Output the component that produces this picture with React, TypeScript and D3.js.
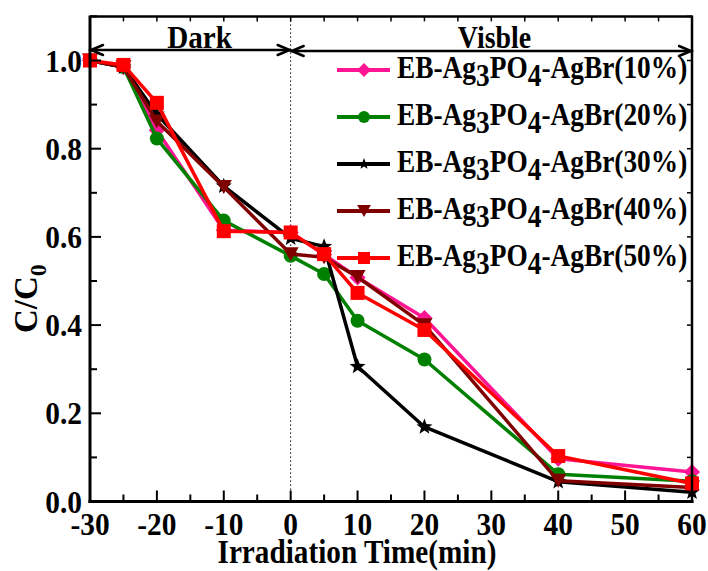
import React from "react";
import * as d3 from "d3";

const times = [-30, -25, -20, -10, 0, 5, 10, 20, 40, 60];
const s10 = [1.0, 0.985, 0.842, 0.615, 0.61, 0.56, 0.508, 0.416, 0.097, 0.067];
const s20 = [1.0, 0.985, 0.823, 0.637, 0.557, 0.516, 0.41, 0.322, 0.062, 0.046];
const s30 = [1.0, 0.985, 0.878, 0.715, 0.597, 0.578, 0.306, 0.169, 0.045, 0.021];
const s40 = [1.0, 0.985, 0.862, 0.713, 0.561, 0.554, 0.509, 0.4, 0.047, 0.032];
const s50 = [1.0, 0.99, 0.904, 0.613, 0.61, 0.561, 0.473, 0.389, 0.103, 0.041];

const seriesLabels = ["10%", "20%", "30%", "40%", "50%"];
const seriesColors = ["#FF1493", "#008000", "#000000", "#800000", "#FF0000"];
const seriesMarkers = ["diamond", "circle", "star", "triangleDown", "square"];
const seriesValues = [s10, s20, s30, s40, s50];

const xTicks = [-30, -20, -10, 0, 10, 20, 30, 40, 50, 60];
const yTicks = [0.0, 0.2, 0.4, 0.6, 0.8, 1.0];

const W = 708;
const H = 571;
const FONT = "'Liberation Serif', 'Times New Roman', serif";

function markerPath(kind: string, s: number): string {
  const h = s / 2;
  switch (kind) {
    case "diamond":
      return `M0,${-h * 1.15}L${h * 1.15},0L0,${h * 1.15}L${-h * 1.15},0Z`;
    case "square":
      return `M${-h},${-h}L${h},${-h}L${h},${h}L${-h},${h}Z`;
    case "triangleDown": {
      const w = s * 1.15;
      const th = w * 0.866;
      return `M${-w / 2},${-th / 2}L${w / 2},${-th / 2}L0,${th / 2}Z`;
    }
    case "star": {
      const R = h * 1.2;
      const r = R * 0.42;
      const pts: string[] = [];
      for (let i = 0; i < 10; i++) {
        const a = -Math.PI / 2 + (i * Math.PI) / 5;
        const rr = i % 2 === 0 ? R : r;
        pts.push(`${rr * Math.cos(a)},${rr * Math.sin(a)}`);
      }
      return "M" + pts.join("L") + "Z";
    }
    default: {
      const r = h;
      return `M${r},0A${r},${r} 0 1,1 ${-r},0A${r},${r} 0 1,1 ${r},0Z`;
    }
  }
}

export default function App() {
  const x = d3.scaleLinear().domain([-30, 60]).range([90, 692]);
  const y = d3.scaleLinear().domain([0, 1.1]).range([501.5, 16.4]);
  const line = d3
    .line<number>()
    .x((_, i) => x(times[i]))
    .y((d) => y(d));

  const left = x(-30);
  const right = x(60);
  const top = y(1.1);
  const bottom = y(0);

  const xMinor = d3.range(-30, 61, 5);
  const yMinor = d3.range(0, 1.101, 0.1);

  const legendRows = [70, 117, 164, 211, 258];

  const arrowY1 = 50;
  const arrowY2 = 51;
  const headL = 12;
  const headH = 5;

  return (
    <div style={{ position: "absolute", left: 0, top: 0 }}>
      <svg width={W} height={H} style={{ display: "block", background: "#fff" }}>
        <rect x={0} y={0} width={W} height={H} fill="#fff" />
        <line
          x1={x(0)}
          x2={x(0)}
          y1={top}
          y2={bottom}
          stroke="#000"
          strokeWidth={1}
          strokeDasharray="1.5,2.5"
        />
        {seriesValues.map((vals, si) => (
          <g key={si}>
            <path
              d={line(vals) || ""}
              fill="none"
              stroke={seriesColors[si]}
              strokeWidth={3.5}
              strokeLinejoin="round"
            />
            {vals.map((v, i) => (
              <path
                key={i}
                d={markerPath(seriesMarkers[si], 14)}
                transform={`translate(${x(times[i])},${y(v)})`}
                fill={seriesColors[si]}
              />
            ))}
          </g>
        ))}
        <line x1={left} x2={left} y1={top - 1} y2={bottom + 1.5} stroke="#000" strokeWidth={3} />
        <line x1={left - 1.5} x2={right + 1.5} y1={bottom} y2={bottom} stroke="#000" strokeWidth={3} />
        <line x1={left} x2={right} y1={top} y2={top} stroke="#000" strokeWidth={2.5} />
        <line x1={right} x2={right} y1={top - 1} y2={bottom + 1.5} stroke="#000" strokeWidth={2.5} />
        {xMinor.map((t) => {
          const major = t % 10 === 0;
          return (
            <g key={"xt" + t}>
              <line x1={x(t)} x2={x(t)} y1={bottom} y2={bottom - (major ? 11 : 7)} stroke="#000" strokeWidth={2} />
              <line x1={x(t)} x2={x(t)} y1={top} y2={top + 5} stroke="#000" strokeWidth={1.5} />
            </g>
          );
        })}
        {yMinor.map((v, i) => {
          const major = i % 2 === 0;
          return (
            <g key={"yt" + i}>
              <line x1={left} x2={left + (major ? 11 : 7)} y1={y(v)} y2={y(v)} stroke="#000" strokeWidth={2} />
              <line x1={right} x2={right - 5} y1={y(v)} y2={y(v)} stroke="#000" strokeWidth={1.5} />
            </g>
          );
        })}
        {xTicks.map((t) => (
          <text
            key={"xl" + t}
            transform={`translate(${x(t)},535) scale(0.95,1)`}
            textAnchor="middle"
            fontFamily={FONT}
            fontWeight="bold"
            fontSize={31}
          >
            {t}
          </text>
        ))}
        {yTicks.map((v) => (
          <text
            key={"yl" + v}
            transform={`translate(82,${y(v) + 11}) scale(0.95,1)`}
            textAnchor="end"
            fontFamily={FONT}
            fontWeight="bold"
            fontSize={31}
          >
            {v.toFixed(1)}
          </text>
        ))}
        <text
          transform="translate(357,563) scale(0.86,1)"
          textAnchor="middle"
          fontFamily={FONT}
          fontWeight="bold"
          fontSize={34}
        >
          Irradiation Time(min)
        </text>
        <text
          transform="translate(37,333) rotate(-90)"
          fontFamily={FONT}
          fontWeight="bold"
          fontSize={33}
        >
          C/C<tspan fontSize={24} dy={9}>0</tspan>
        </text>
        <text
          transform="translate(199.5,48) scale(0.94,1)"
          textAnchor="middle"
          fontFamily={FONT}
          fontWeight="bold"
          fontSize={31}
        >
          Dark
        </text>
        <text
          transform="translate(494.5,48) scale(0.9,1)"
          textAnchor="middle"
          fontFamily={FONT}
          fontWeight="bold"
          fontSize={31}
        >
          Visble
        </text>
        <g stroke="#000" strokeWidth={2.5} fill="none" strokeLinecap="round">
          <line x1={left + 1} x2={x(0) - 1} y1={arrowY1} y2={arrowY1} />
          <polyline points={`${left + 1 + headL},${arrowY1 - headH} ${left + 1},${arrowY1} ${left + 1 + headL},${arrowY1 + headH}`} />
          <polyline points={`${x(0) - 1 - headL},${arrowY1 - headH} ${x(0) - 1},${arrowY1} ${x(0) - 1 - headL},${arrowY1 + headH}`} />
          <line x1={x(0) + 1} x2={right - 1} y1={arrowY2} y2={arrowY2} />
          <polyline points={`${x(0) + 1 + headL},${arrowY2 - headH} ${x(0) + 1},${arrowY2} ${x(0) + 1 + headL},${arrowY2 + headH}`} />
          <polyline points={`${right - 1 - headL},${arrowY2 - headH} ${right - 1},${arrowY2} ${right - 1 - headL},${arrowY2 + headH}`} />
        </g>
        {seriesLabels.map((lab, i) => {
          const ry = legendRows[i];
          return (
            <g key={"lg" + i}>
              <line x1={337} x2={390} y1={ry} y2={ry} stroke={seriesColors[i]} strokeWidth={4} />
              <path
                d={markerPath(seriesMarkers[i], seriesMarkers[i] === "star" ? 10 : 12)}
                transform={`translate(364,${ry})`}
                fill={seriesColors[i]}
              />
              <text
                transform={`translate(397,${ry + 8}) scale(0.855,1)`}
                fontFamily={FONT}
                fontWeight="bold"
                fontSize={32}
              >
                {`EB-Ag`}
                <tspan dy={8}>3</tspan>
                <tspan dy={-8}>PO</tspan>
                <tspan dy={8}>4</tspan>
                <tspan dy={-8}>{`-AgBr(${lab})`}</tspan>
              </text>
            </g>
          );
        })}
      </svg>
    </div>
  );
}
